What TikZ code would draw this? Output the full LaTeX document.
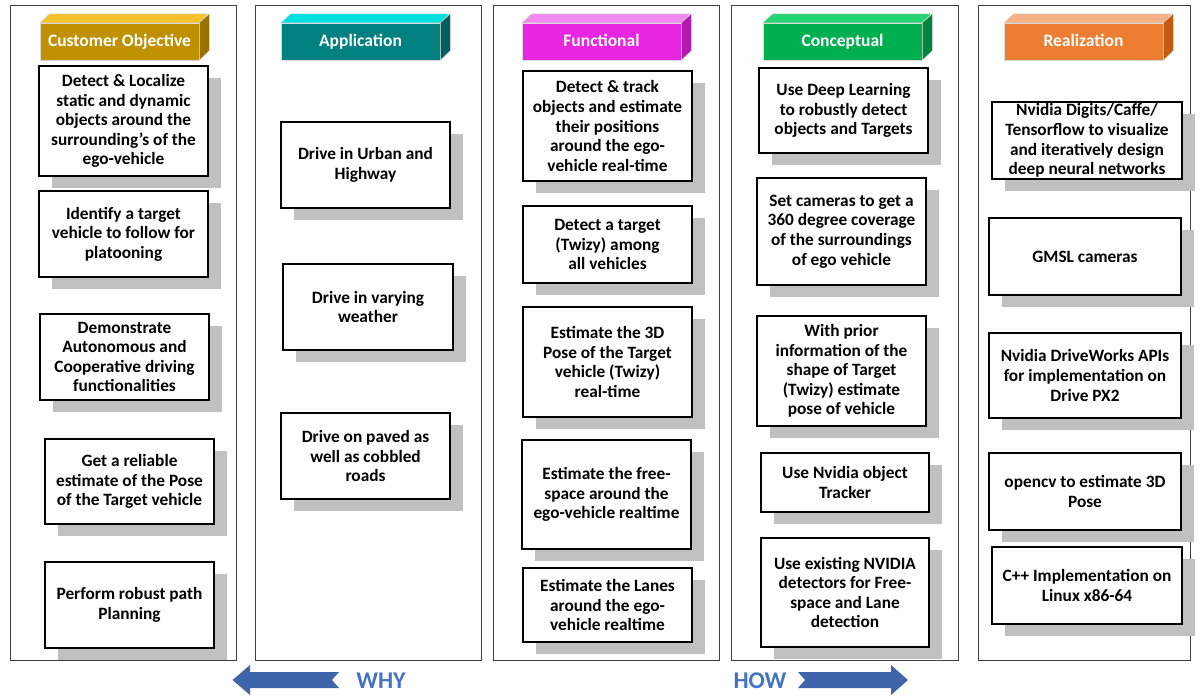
\documentclass[tikz,border=0pt]{standalone}
\usepackage{fontspec}
\setmainfont{Carlito}
\usetikzlibrary{shadows}

\definecolor{shadowgray}{HTML}{C0C0C0}
\definecolor{arrowblue}{HTML}{3F64AA}
\definecolor{wordblue}{HTML}{4472C4}
% header colours: front, top, side
\definecolor{goldF}{HTML}{BF9000}\definecolor{goldT}{HTML}{F7C12A}\definecolor{goldS}{HTML}{977200}
\definecolor{tealF}{HTML}{008080}\definecolor{tealT}{HTML}{00E0E0}\definecolor{tealS}{HTML}{005F5F}
\definecolor{magF}{HTML}{E826E0}\definecolor{magT}{HTML}{F088F0}\definecolor{magS}{HTML}{B418B0}
\definecolor{grnF}{HTML}{00B050}\definecolor{grnT}{HTML}{24D472}\definecolor{grnS}{HTML}{00853C}
\definecolor{orgF}{HTML}{ED7D31}\definecolor{orgT}{HTML}{F4B183}\definecolor{orgS}{HTML}{C55A11}

\tikzset{
  colframe/.style={draw=black!75, line width=0.9pt},
  card/.style={draw=black, line width=1.1pt, fill=white, align=center, inner sep=0pt,
    font=\fontsize{17.3}{19.6}\selectfont\bfseries,
    drop shadow={shadow xshift=12.5pt, shadow yshift=-11.5pt, fill=shadowgray, opacity=1}},
  hdrfront/.style={fill=#1, draw=black!15, line width=0.5pt, minimum width=159pt,
    minimum height=37pt, inner sep=0pt, text=white,
    font=\fontsize{17.5}{19}\selectfont\bfseries},
  hdrface/.style={fill=#1, draw=black!15, line width=0.5pt},
  blockarrow/.style={fill=arrowblue, draw=none},
  dirword/.style={text=wordblue, font=\fontsize{24}{26}\selectfont\bfseries, inner sep=0pt},
}

% \reqbox{name}{x1}{y1}{x2}{y2}{text}
\newcommand{\reqbox}[6]{%
  \node[card, minimum width={#4-#2}, minimum height={#5-#3}] (#1) at ({(#2+#4)/2},{(#3+#5)/2}) {#6};}

% \hdrbox{name}{x1}{front}{top}{side}{text}
\newcommand{\hdrbox}[6]{%
  \node[hdrfront=#3] (#1) at ({#2+79.5},41.5) {\vphantom{Cg}#6};
  \draw[hdrface=#4] (#1.north west) -- ++(10,-9) -- ++(159,0) -- (#1.north east) -- cycle;
  \draw[hdrface=#5] (#1.north east) -- ++(10,-9) -- ++(0,37) -- (#1.south east) -- cycle;}

\begin{document}
\begin{tikzpicture}[x=1pt,y=-1pt]
\useasboundingbox (0,0) rectangle (1200,696);

% column frames
\draw[colframe] (10,5) rectangle (236,660);
\draw[colframe] (255,5) rectangle (481,660);
\draw[colframe] (493,5) rectangle (719,660);
\draw[colframe] (731,5) rectangle (958,660);
\draw[colframe] (978,5) rectangle (1190,660);

% column headers
\hdrbox{hco}{40}{goldF}{goldT}{goldS}{Customer Objective}
\hdrbox{hap}{281}{tealF}{tealT}{tealS}{Application}
\hdrbox{hfu}{522}{magF}{magT}{magS}{Functional}
\hdrbox{hcp}{763}{grnF}{grnT}{grnS}{Conceptual}
\hdrbox{hre}{1004}{orgF}{orgT}{orgS}{Realization}

% Customer Objective
\reqbox{co1}{39}{66}{208}{176}{Detect \& Localize\\static and dynamic\\objects around the\\surrounding’s of the\\ego-vehicle}
\reqbox{co2}{39}{191}{208}{277}{Identify a target\\vehicle to follow for\\platooning}
\reqbox{co3}{40}{314}{209}{400}{Demonstrate\\Autonomous and\\Cooperative driving\\functionalities}
\reqbox{co4}{45}{439}{214}{524}{Get a reliable\\estimate of the Pose\\of the Target vehicle}
\reqbox{co5}{45}{562}{214}{648}{Perform robust path\\Planning}

% Application
\reqbox{ap1}{281}{122}{450}{208}{Drive in Urban and\\Highway}
\reqbox{ap2}{283}{264}{453}{350}{Drive in varying\\weather}
\reqbox{ap3}{281}{413}{450}{499}{Drive on paved as\\well as cobbled\\roads}

% Functional
\reqbox{fu1}{523}{71}{692}{181}{Detect \& track\\objects and estimate\\their positions\\around the ego-\\vehicle real-time}
\reqbox{fu2}{523}{206}{692}{283}{Detect a target\\(Twizy) among\\all vehicles}
\reqbox{fu3}{523}{307}{692}{417}{Estimate the 3D\\Pose of the Target\\vehicle (Twizy)\\real-time}
\reqbox{fu4}{522}{440}{691}{549}{Estimate the free-\\space around the\\ego-vehicle realtime}
\reqbox{fu5}{523}{568}{692}{642}{Estimate the Lanes\\around the ego-\\vehicle realtime}

% Conceptual
\reqbox{cp1}{759}{68}{928}{153}{Use Deep Learning\\to robustly detect\\objects and Targets}
\reqbox{cp2}{757}{178}{926}{285}{Set cameras to get a\\360 degree coverage\\of the surroundings\\of ego vehicle}
\reqbox{cp3}{757}{316}{926}{426}{With prior\\information of the\\shape of Target\\(Twizy) estimate\\pose of vehicle}
\reqbox{cp4}{761}{453}{929}{512}{Use Nvidia object\\Tracker}
\reqbox{cp5}{761}{538}{929}{647}{Use existing NVIDIA\\detectors for Free-\\space and Lane\\detection}

% Realization
\reqbox{re1}{992}{102}{1182}{179}{Nvidia Digits/Caffe/\\Tensorflow to visualize\\and iteratively design\\deep neural networks}
\reqbox{re2}{989}{218}{1181}{295}{GMSL cameras}
\reqbox{re3}{989}{333}{1181}{418}{Nvidia DriveWorks APIs\\for implementation on\\Drive PX2}
\reqbox{re4}{989}{453}{1181}{530}{opencv to estimate 3D\\Pose}
\reqbox{re5}{992}{547}{1182}{624}{C++ Implementation on\\Linux x86-64}

% WHY / HOW direction arrows
\fill[blockarrow] (232.5,680) -- (250,665) -- (250,672) -- (339,672) -- (332,680)
  -- (339,688) -- (250,688) -- (250,695) -- cycle;
\node[dirword] (why) at (381,681) {WHY};
\fill[blockarrow] (908,680) -- (891,665) -- (891,672) -- (798,672) -- (805,680)
  -- (798,688) -- (891,688) -- (891,695) -- cycle;
\node[dirword] (how) at (760,681) {HOW};
\end{tikzpicture}
\end{document}
